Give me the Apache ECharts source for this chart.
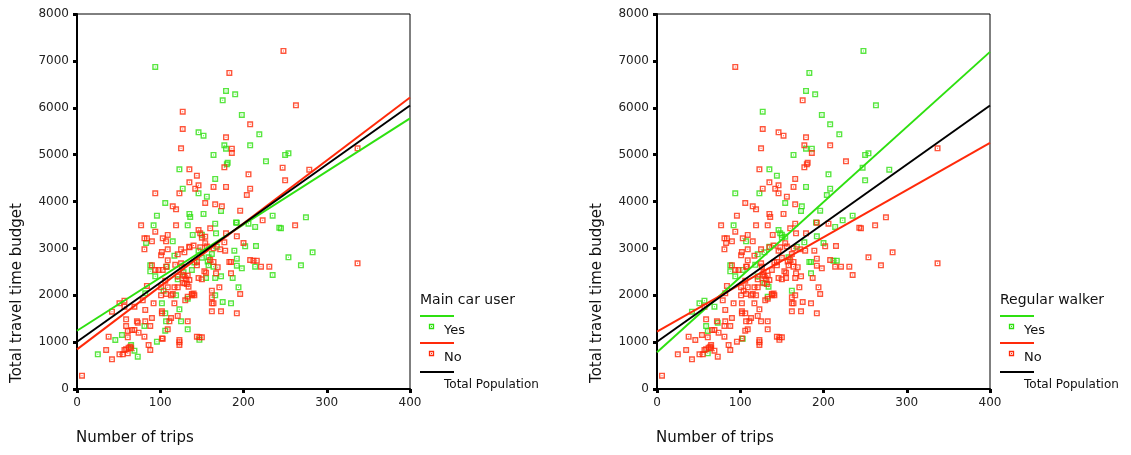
<!DOCTYPE html>
<html>
<head>
<meta charset="utf-8">
<script src="https://cdn.jsdelivr.net/npm/echarts@6/dist/echarts.min.js"></script>
<style>
  html, body { margin: 0; padding: 0; background: #fff; }
  #chart { width: 1131px; height: 455px; }
</style>
</head>
<body>
<div id="chart"></div>
<script>
// Respondents as [number of trips, total travel time budget], split by
// main-car-user status and regular-walker status.
const carYesWalkYes = [
  [179,6358],[190,6287],[198,5846],[219,5434],[179,5128],[164,4993],[250,4993],[254,5028],
  [173,3798],[235,3698],[92,3492],[191,3550],[214,3457],[88,2639],[88,2511],[94,2404],
  [150,3290],[158,2810],[168,3037]
];
const carYesWalkNo = [
  [94,6870],[175,6159],[146,5476],[152,5405],[177,5199],[208,5199],[181,4829],[180,4793],
  [227,4858],[123,4687],[166,4481],[127,4274],[146,4175],[156,4104],[106,3968],[96,3698],
  [135,3734],[136,3670],[152,3734],[275,3663],[133,3492],[166,3527],[206,3527],[243,3442],
  [245,3428],[192,3549],[139,3286],[167,3321],[83,3115],[115,3151],[189,2951],[202,3044],
  [215,3051],[283,2916],[254,2809],[269,2639],[235,2432],[214,2610],[198,2575],[192,2632],
  [192,2781],[187,2368],[194,2169],[185,1828],[175,1856],[166,1998],[166,2368],[173,2404],
  [155,2368],[138,2539],[133,1927],[121,2340],[119,1998],[108,2610],[117,2845],[104,2098],
  [102,1828],[106,1614],[96,1010],[125,1444],[133,1273],[123,1700],[107,1444],[106,1245],
  [81,1344],[25,740],[46,1045],[54,1152],[65,939],[69,818],[73,690],[147,1050],[82,2041],
  [150,2800],[158,2640],[146,2950],[162,2880],[128,2490],[141,2700],[164,2610],[157,2720]
];
const carNoWalkYes = [
  [248,7212],[183,6742],[263,6052],[127,5917],[208,5647],[186,5128],[135,4687],[247,4722],
  [279,4680],[206,4580],[144,4552],[250,4452],[179,4310],[208,4274],[94,4175],[123,4175],
  [204,4139],[154,3968],[174,3897],[196,3805],[223,3599],[146,3392],[148,3321],[107,3151],
  [150,3229],[192,3257],[200,3115],[212,2738],[216,2738],[183,2710],[185,2710],[185,2468],
  [162,2098],[42,1650],[51,1828],[57,1885],[69,1757],[59,1344],[73,1415],[61,1237],
  [103,1074],[61,761],[129,2255],[118,2650],[121,2400],[134,2183],[133,1970],[103,2540],
  [154,3250],[177,3129],[135,3037],[129,2916],[121,2873]
];
const carNoWalkNo = [
  [127,5547],[179,5370],[186,5035],[125,5135],[337,5135],[177,4730],[135,4409],[146,4345],
  [142,4274],[164,4310],[166,3940],[115,3897],[119,3833],[77,3492],[119,3492],[160,3428],
  [262,3492],[94,3357],[109,3286],[179,3321],[81,3215],[84,3215],[90,3151],[103,3215],
  [81,2980],[337,2681],[231,2610],[221,2610],[208,2752],[196,2027],[192,1614],[173,1657],
  [162,1657],[162,1828],[164,1828],[162,1956],[171,2169],
  [102,2923],[101,2852],[109,2980],[125,2980],[135,3023],[140,3060],[148,3023],[154,3110],
  [156,3040],[164,3001],[172,2980],[178,2951],[160,2752],[164,2710],[144,2710],[144,2639],
  [146,2368],[150,2340],[153,2510],[155,2480],[167,2468],[169,2600],[138,2027],[138,2000],
  [130,1892],[135,2327],[132,2240],[127,2439],[129,2411],[131,2340],[127,2269],[133,2421],
  [126,2610],[125,2681],[121,2169],[117,2169],[113,1998],[115,2027],[117,1828],[107,2027],
  [109,2169],[101,2169],[101,1998],[106,2311],[98,2539],[94,2539],[90,2639],[109,2746],
  [107,2610],[123,1045],[123,1000],[123,939],[133,1444],[121,1558],[113,1515],[111,1444],
  [109,1273],[102,1080],[102,1614],[102,1657],[92,1828],[82,1686],[90,1515],[82,1444],
  [88,1344],[81,1117],[86,939],[88,832],[72,1444],[74,1202],[69,1259],[66,1259],[61,1102],
  [64,903],[65,868],[62,882],[59,846],[57,832],[55,740],[59,1486],[57,1757],[38,1117],
  [35,832],[42,633],[51,740],[6,284],[79,1892],[84,2198],[147,1102],[144,1117],[150,1102],
  [140,2040],[141,2000]
];

// Fitted lines, given by their value at 0 and at 400 trips
const fitTrips = [0, 400];
const carYesFit = [1243, 5772];
const carNoFit = [846, 6220];
const walkYesFit = [782, 7192];
const walkNoFit = [1222, 5252];
const totalFit = [1009, 6049];

const xTicks = [0, 100, 200, 300, 400];
const yTicks = [0, 1000, 2000, 3000, 4000, 5000, 6000, 7000, 8000];

const GREEN = '#2ee010';
const RED = '#ff2a0a';
const BLACK = '#000000';
const FONT = 'DejaVu Sans';

// hollow square marker with a centre dot
const markerPath = 'path://M0,0H6V6H0Z M1.4,1.4V4.6H4.6V1.4Z M2.5,2.5H3.5V3.5H2.5Z';

function fitLine(vals) {
  return fitTrips.map((t, i) => [t, vals[i]]);
}

const panels = [
  { left: 77, title: 'Main car user',
    yes: carYesWalkYes.concat(carYesWalkNo), no: carNoWalkYes.concat(carNoWalkNo),
    yesFit: carYesFit, noFit: carNoFit },
  { left: 657, title: 'Regular walker',
    yes: carYesWalkYes.concat(carNoWalkYes), no: carYesWalkNo.concat(carNoWalkNo),
    yesFit: walkYesFit, noFit: walkNoFit }
];

const grids = [], xAxes = [], yAxes = [], series = [], graphics = [];

const axisCommon = (i, ticks) => ({
  gridIndex: i, type: 'value', min: ticks[0], max: ticks[ticks.length - 1],
  interval: ticks[1] - ticks[0],
  axisLine: { show: true, onZero: false, lineStyle: { color: '#000', width: 2 } },
  axisTick: { show: true, length: 4, lineStyle: { color: '#000', width: 3 } },
  axisLabel: { color: '#222', fontFamily: FONT, fontSize: 12, margin: 8,
               formatter: (v) => String(v) },
  splitLine: { show: false }
});

panels.forEach((p, i) => {
  grids.push({ left: p.left, top: 14, width: 333, height: 375, show: true,
               borderColor: '#000', borderWidth: 1, backgroundColor: 'transparent' });
  xAxes.push(axisCommon(i, xTicks));
  yAxes.push(axisCommon(i, yTicks));

  const pointStyle = (c) => ({
    type: 'scatter', xAxisIndex: i, yAxisIndex: i, symbol: markerPath, symbolSize: 6,
    itemStyle: { color: c }, silent: true, z: 2
  });
  series.push(Object.assign(pointStyle(GREEN), { data: p.yes }));
  series.push(Object.assign(pointStyle(RED), { data: p.no }));
  const lineStyle = (c, vals) => ({
    type: 'line', xAxisIndex: i, yAxisIndex: i, data: fitLine(vals), symbol: 'none',
    lineStyle: { color: c, width: 2 }, silent: true, z: 3
  });
  series.push(lineStyle(GREEN, p.yesFit));
  series.push(lineStyle(RED, p.noFit));
  series.push(lineStyle(BLACK, totalFit));

  // axis titles
  graphics.push({ type: 'text', left: p.left - 1, top: 431,
    style: { text: 'Number of trips', font: '15px "DejaVu Sans"', fill: '#111' } });
  graphics.push({ type: 'text', x: p.left - 60, y: 293, rotation: Math.PI / 2,
    style: { text: 'Total travel time budget', font: '15px "DejaVu Sans"', fill: '#111',
             align: 'center', verticalAlign: 'middle' } });

  // legend
  const lx = p.left + 343;
  graphics.push({ type: 'text', x: lx, y: 300,
    style: { text: p.title, font: '14px "DejaVu Sans"', fill: '#111', verticalAlign: 'middle' } });
  [[GREEN, 316, 'Yes', 331, true], [RED, 343, 'No', 358, true], [BLACK, 372, 'Total Population', 385, false]]
    .forEach(([c, ly, label, ty, mark]) => {
      graphics.push({ type: 'line', shape: { x1: lx, y1: ly, x2: lx + 34, y2: ly },
        style: { stroke: c, lineWidth: 2 } });
      if (mark) {
        graphics.push({ type: 'rect', shape: { x: lx + 9.5, y: ly + 8.5, width: 4, height: 4 },
          style: { fill: '#fff', stroke: c, lineWidth: 1.3 } });
        graphics.push({ type: 'rect', shape: { x: lx + 11, y: ly + 10, width: 1, height: 1 },
          style: { fill: c } });
      }
      graphics.push({ type: 'text', x: lx + 24, y: ty,
        style: { text: label, font: (mark ? '13px' : '12px') + ' "DejaVu Sans"', fill: '#111',
                 verticalAlign: 'middle' } });
    });
});

const chart = echarts.init(document.getElementById('chart'), null, { renderer: 'canvas' });
chart.setOption({
  animation: false,
  backgroundColor: '#fff',
  grid: grids,
  xAxis: xAxes,
  yAxis: yAxes,
  series: series,
  graphic: graphics
});
</script>
</body>
</html>
